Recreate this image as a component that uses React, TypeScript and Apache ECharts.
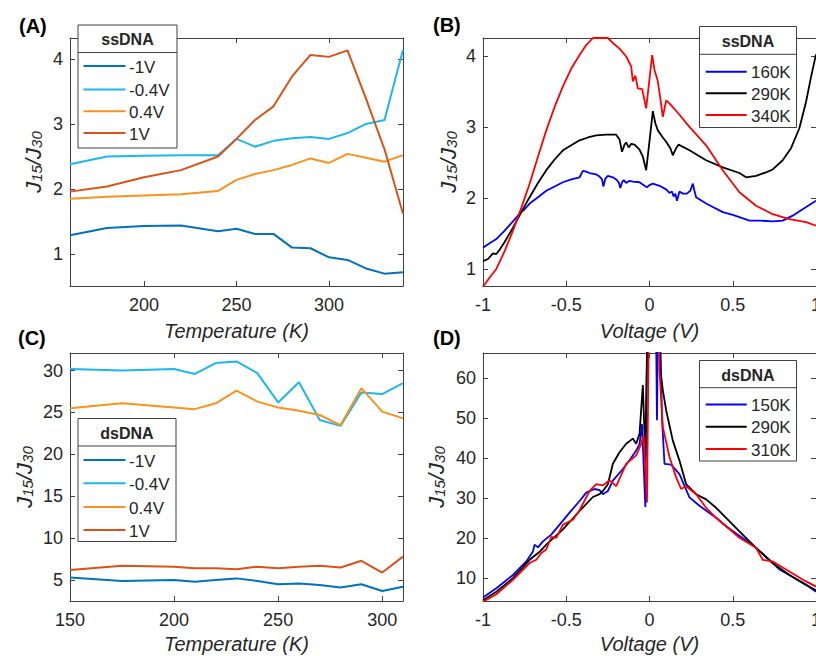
import React, { useEffect, useRef } from 'react';
import * as echarts from 'echarts';

const FONT = '"Liberation Sans", Arial, Helvetica, sans-serif';
const TEXT = '#262626';
const AXIS = '#404040';

// ---------- Panel A (ssDNA, ratio vs temperature) ----------
const tempA = [160, 180, 200, 220, 240, 250, 260, 270, 280, 290, 300, 310, 320, 330, 340];
const ssNeg1V = [1.29, 1.40, 1.43, 1.44, 1.35, 1.39, 1.31, 1.31, 1.10, 1.09, 0.95, 0.91, 0.78, 0.70, 0.72];
const ssNeg04V = [2.38, 2.50, 2.51, 2.52, 2.52, 2.77, 2.65, 2.74, 2.78, 2.80, 2.77, 2.86, 3.00, 3.06, 4.14];
const ssPos04V = [1.85, 1.88, 1.90, 1.92, 1.97, 2.14, 2.23, 2.29, 2.37, 2.47, 2.40, 2.54, 2.48, 2.42, 2.52];
const ssPos1V = [1.96, 2.04, 2.18, 2.29, 2.50, 2.77, 3.06, 3.27, 3.73, 4.06, 4.03, 4.13, 3.39, 2.61, 1.62];

// ---------- Panel C (dsDNA, ratio vs temperature) ----------
const tempC = [150, 175, 200, 210, 220, 230, 240, 250, 260, 270, 280, 290, 300, 310];
const dsNeg1V = [5.3, 4.9, 5.0, 4.8, 5.0, 5.2, 4.9, 4.5, 4.6, 4.4, 4.1, 4.5, 3.7, 4.2];
const dsNeg04V = [30.2, 30.0, 30.2, 29.6, 30.9, 31.1, 29.7, 26.2, 28.6, 24.1, 23.4, 27.4, 27.2, 28.5];
const dsPos04V = [25.5, 26.1, 25.6, 25.4, 26.1, 27.6, 26.3, 25.6, 25.2, 24.7, 23.5, 27.9, 25.1, 24.3];
const dsPos1V = [6.2, 6.7, 6.6, 6.4, 6.4, 6.3, 6.6, 6.4, 6.6, 6.7, 6.5, 7.3, 5.9, 7.8];

const biasNames = ['-1V', '-0.4V', '0.4V', '1V'];

// ---------- Panel B (ssDNA, ratio vs voltage) ----------
const ss160K: [number, number][] = [
  [-1, 1.30], [-0.96, 1.36], [-0.92, 1.42], [-0.87, 1.54], [-0.82, 1.67], [-0.78, 1.78], [-0.75, 1.84],
  [-0.72, 1.92], [-0.67, 2.01], [-0.62, 2.10], [-0.57, 2.16], [-0.52, 2.22], [-0.47, 2.26], [-0.42, 2.29],
  [-0.4, 2.38], [-0.38, 2.37], [-0.36, 2.35], [-0.32, 2.33], [-0.3, 2.30], [-0.285, 2.26], [-0.277, 2.16],
  [-0.265, 2.27], [-0.25, 2.31], [-0.22, 2.29], [-0.2, 2.26], [-0.185, 2.22], [-0.175, 2.14], [-0.165, 2.22],
  [-0.155, 2.25], [-0.14, 2.21], [-0.12, 2.24], [-0.1, 2.23], [-0.06, 2.22], [-0.03, 2.17], [-0.015, 2.15],
  [0.0, 2.18], [0.02, 2.2], [0.06, 2.17], [0.1, 2.12], [0.12, 2.07], [0.135, 2.09], [0.145, 2.02],
  [0.155, 2.06], [0.165, 1.96], [0.18, 2.09], [0.2, 2.06], [0.225, 2.06], [0.245, 2.1], [0.26, 2.2],
  [0.27, 2.1], [0.28, 2.01], [0.34, 1.92], [0.44, 1.80], [0.5, 1.76], [0.54, 1.73], [0.6, 1.68],
  [0.66, 1.68], [0.74, 1.67], [0.8, 1.68], [0.86, 1.75], [0.92, 1.84], [0.96, 1.90], [1, 1.96],
];
const ss290K: [number, number][] = [
  [-1, 1.11], [-0.97, 1.14], [-0.94, 1.22], [-0.92, 1.21], [-0.9, 1.27], [-0.87, 1.38], [-0.82, 1.58],
  [-0.77, 1.80], [-0.72, 2.01], [-0.67, 2.21], [-0.62, 2.39], [-0.57, 2.54], [-0.52, 2.67], [-0.47, 2.74],
  [-0.42, 2.81], [-0.37, 2.85], [-0.32, 2.88], [-0.26, 2.89], [-0.2, 2.89], [-0.18, 2.82], [-0.165, 2.65],
  [-0.15, 2.75], [-0.14, 2.78], [-0.125, 2.71], [-0.11, 2.76], [-0.09, 2.75], [-0.06, 2.68], [-0.04, 2.58],
  [-0.02, 2.39], [0.0, 2.8], [0.02, 3.22], [0.035, 3.05], [0.05, 2.95], [0.08, 2.85], [0.1, 2.79],
  [0.125, 2.7], [0.14, 2.6], [0.16, 2.7], [0.175, 2.75], [0.24, 2.67], [0.34, 2.53], [0.44, 2.43],
  [0.54, 2.35], [0.58, 2.29], [0.64, 2.31], [0.7, 2.36], [0.74, 2.40], [0.8, 2.53], [0.85, 2.7],
  [0.9, 2.98], [0.94, 3.35], [0.97, 3.7], [1, 4.02],
];
const ss340K: [number, number][] = [
  [-1, 0.75], [-0.96, 0.88], [-0.92, 1.0], [-0.87, 1.25], [-0.82, 1.54], [-0.77, 1.86], [-0.72, 2.2],
  [-0.67, 2.58], [-0.62, 2.95], [-0.57, 3.28], [-0.52, 3.57], [-0.47, 3.82], [-0.42, 4.01], [-0.38, 4.15],
  [-0.34, 4.25], [-0.25, 4.25], [-0.22, 4.18], [-0.18, 4.1], [-0.14, 3.99], [-0.11, 3.85], [-0.1, 3.64],
  [-0.085, 3.72], [-0.07, 3.54], [-0.044, 3.53], [-0.02, 3.26], [0.016, 4.01], [0.03, 3.8], [0.05, 3.64],
  [0.065, 3.4], [0.08, 3.14], [0.1, 3.37], [0.12, 3.33], [0.18, 3.17], [0.24, 3.0], [0.34, 2.74],
  [0.44, 2.39], [0.54, 2.08], [0.64, 1.89], [0.74, 1.77], [0.84, 1.70], [0.94, 1.66], [1, 1.61],
];
const ssTempNames = ['160K', '290K', '340K'];

// ---------- Panel D (dsDNA, ratio vs voltage) ----------
const ds150K: [number, number][] = [
  [-1, 5.2], [-0.92, 7.5], [-0.82, 10.8], [-0.74, 14.2], [-0.7, 16.7], [-0.69, 18.4], [-0.67, 17.7],
  [-0.64, 19.2], [-0.59, 20.9], [-0.54, 23.4], [-0.48, 26.4], [-0.42, 29.3], [-0.38, 31.4], [-0.33, 32.3],
  [-0.3, 32.0], [-0.28, 31.0], [-0.25, 31.8], [-0.22, 34.4], [-0.16, 37.3], [-0.12, 39.5], [-0.08, 41.9],
  [-0.06, 43.5], [-0.045, 48.5], [-0.025, 27.8], [-0.01, 90], [0.035, 90], [0.045, 49.5], [0.055, 90],
  [0.065, 70], [0.075, 50], [0.09, 38.6], [0.13, 38.4], [0.18, 36], [0.24, 30.2], [0.3, 28.1],
  [0.4, 25.1], [0.46, 23], [0.54, 20.6], [0.64, 17.6], [0.7, 15.3], [0.78, 12.2], [0.84, 10.8],
  [0.94, 8.4], [1, 6.6],
];
const ds290K: [number, number][] = [
  [-1, 4.5], [-0.92, 6.6], [-0.82, 10.0], [-0.72, 14.6], [-0.66, 16.6], [-0.62, 18.4], [-0.52, 22.2],
  [-0.42, 26.8], [-0.34, 30.3], [-0.3, 31.0], [-0.28, 31.8], [-0.25, 33.5], [-0.22, 38.6], [-0.18, 41.5],
  [-0.14, 43.6], [-0.1, 44.9], [-0.08, 43.6], [-0.06, 46.1], [-0.04, 58.3], [-0.025, 40], [-0.005, 90],
  [0.055, 90], [0.065, 62], [0.08, 57], [0.1, 52], [0.14, 44.4], [0.18, 39.4], [0.22, 33.5], [0.28, 31.0],
  [0.34, 29.7], [0.4, 27.6], [0.46, 25.1], [0.54, 21.7], [0.64, 17.6], [0.74, 13.8], [0.84, 10.8],
  [0.94, 8.3], [1, 7.0],
];
const ds310K: [number, number][] = [
  [-1, 4.1], [-0.92, 6.0], [-0.82, 9.6], [-0.72, 13.8], [-0.68, 14.6], [-0.65, 16.3], [-0.62, 17.2],
  [-0.59, 20.3], [-0.56, 20.1], [-0.52, 23.4], [-0.46, 24.6], [-0.42, 27.0], [-0.36, 31.8], [-0.32, 33.5],
  [-0.28, 33.2], [-0.24, 34.5], [-0.2, 33.0], [-0.14, 38.6], [-0.08, 40.7], [-0.05, 43.6], [-0.035, 45.7],
  [-0.015, 28.9], [0.0, 90], [0.05, 90], [0.06, 62], [0.08, 47.8], [0.12, 40.3], [0.16, 35.2], [0.19, 32.3],
  [0.22, 33], [0.28, 31], [0.34, 27.6], [0.4, 25.1], [0.46, 23], [0.54, 20.1], [0.64, 17.6], [0.68, 14.6],
  [0.74, 14.2], [0.84, 11.7], [0.94, 9.2], [1, 7.9],
];
const dsTempNames = ['150K', '290K', '310K'];

// tick values
const ticksA_x = [200, 250, 300];
const ticksA_y = [1, 2, 3, 4];
const ticksC_x = [150, 200, 250, 300];
const ticksC_y = [5, 10, 15, 20, 25, 30];
const ticksV_x = [-1, -0.5, 0, 0.5, 1];
const ticksB_y = [1, 2, 3, 4];
const ticksD_y = [10, 20, 30, 40, 50, 60];

const biasColors = ['#0072BD', '#1EB6EE', '#F7931E', '#D95319'];
const tempColors = ['#0000FF', '#000000', '#FF0000'];

const grids = [
  { left: 70, top: 38, width: 333, height: 248 },
  { left: 483, top: 38, width: 333, height: 248 },
  { left: 70, top: 353, width: 333, height: 248 },
  { left: 483, top: 353, width: 333, height: 248 },
];

const lineStyleAx = { color: AXIS, width: 1 };

function xAxes(gi: number, min: number, max: number, ticks: number[], name: string, gap: number) {
  return [
    {
      type: 'value', gridIndex: gi, position: 'bottom', min, max,
      axisLine: { show: true, onZero: false, lineStyle: lineStyleAx },
      axisTick: { show: true, inside: true, length: 5, customValues: ticks, lineStyle: lineStyleAx },
      axisLabel: { customValues: ticks, color: TEXT, fontSize: 18, fontFamily: FONT, margin: 10 },
      splitLine: { show: false },
      name, nameLocation: 'middle', nameGap: gap,
      nameTextStyle: { color: TEXT, fontSize: 20, fontStyle: 'italic', fontFamily: FONT },
    },
    {
      type: 'value', gridIndex: gi, position: 'top', min, max,
      axisLine: { show: true, onZero: false, lineStyle: lineStyleAx },
      axisTick: { show: true, inside: true, length: 5, customValues: ticks, lineStyle: lineStyleAx },
      axisLabel: { show: false },
      splitLine: { show: false },
    },
  ];
}

function yAxes(gi: number, min: number, max: number, ticks: number[], gap: number) {
  return [
    {
      type: 'value', gridIndex: gi, position: 'left', min, max,
      axisLine: { show: true, onZero: false, lineStyle: lineStyleAx },
      axisTick: { show: true, inside: true, length: 5, customValues: ticks, lineStyle: lineStyleAx },
      axisLabel: { customValues: ticks, color: TEXT, fontSize: 18, fontFamily: FONT, margin: 7 },
      splitLine: { show: false },
      name: '{j|J}{s|15}{j|/J}{s|30}', nameLocation: 'middle', nameGap: gap,
      nameTextStyle: {
        color: TEXT,
        rich: {
          j: { fontSize: 22, lineHeight: 22, fontStyle: 'italic', fontFamily: FONT, color: TEXT, verticalAlign: 'top' },
          s: { fontSize: 15, lineHeight: 15, fontStyle: 'italic', fontFamily: FONT, color: TEXT, padding: [11, 0, 0, 0], verticalAlign: 'bottom' },
        },
      },
    },
    {
      type: 'value', gridIndex: gi, position: 'right', min, max,
      axisLine: { show: true, onZero: false, lineStyle: lineStyleAx },
      axisTick: { show: true, inside: true, length: 5, customValues: ticks, lineStyle: lineStyleAx },
      axisLabel: { show: false },
      splitLine: { show: false },
    },
  ];
}

function legend(
  box: { x: number; y: number; w: number; h: number; div: number },
  title: string, names: string[], colors: string[], itemYs: number[],
  lx0: number, lx1: number, tx: number
) {
  const els: any[] = [
    { type: 'rect', z: 100, shape: { x: box.x, y: box.y, width: box.w, height: box.h },
      style: { fill: '#ffffff', stroke: AXIS, lineWidth: 1 } },
    { type: 'line', z: 101, shape: { x1: box.x, y1: box.div, x2: box.x + box.w, y2: box.div },
      style: { stroke: AXIS, lineWidth: 1 } },
    { type: 'text', z: 101, style: { text: title, x: box.x + box.w / 2, y: (box.y + box.div) / 2 + 1,
      fill: TEXT, fontSize: 16, fontWeight: 'bold', fontFamily: FONT, align: 'center', verticalAlign: 'middle' } },
  ];
  names.forEach((n, i) => {
    els.push({ type: 'line', z: 101, shape: { x1: lx0, y1: itemYs[i], x2: lx1, y2: itemYs[i] },
      style: { stroke: colors[i], lineWidth: 2 } });
    els.push({ type: 'text', z: 101, style: { text: n, x: tx, y: itemYs[i] + 1, fill: TEXT, fontSize: 17,
      fontFamily: FONT, align: 'left', verticalAlign: 'middle' } });
  });
  return els;
}

function panelLabel(text: string, x: number, y: number) {
  return { type: 'text', z: 101, style: { text, x, y, fill: '#000', fontSize: 20, fontWeight: 'bold',
    fontFamily: FONT, align: 'left', verticalAlign: 'middle' } };
}

export default function App() {
  const ref = useRef<HTMLDivElement>(null);
  useEffect(() => {
    if (!ref.current) return;
    const chart = echarts.init(ref.current, null, { renderer: 'svg' });

    const aSeries = [ssNeg1V, ssNeg04V, ssPos04V, ssPos1V].map((vals, i) => ({
      type: 'line', name: 'A' + biasNames[i], xAxisIndex: 0, yAxisIndex: 0,
      data: tempA.map((t, k) => [t, vals[k]]), showSymbol: false, symbol: 'none', clip: true,
      lineStyle: { color: biasColors[i], width: 2 }, itemStyle: { color: biasColors[i] },
    }));
    const bSeries = [ss160K, ss290K, ss340K].map((d, i) => ({
      type: 'line', name: 'B' + ssTempNames[i], xAxisIndex: 2, yAxisIndex: 2,
      data: d, showSymbol: false, symbol: 'none', clip: true,
      lineStyle: { color: tempColors[i], width: 1.8 }, itemStyle: { color: tempColors[i] },
    }));
    const cSeries = [dsNeg1V, dsNeg04V, dsPos04V, dsPos1V].map((vals, i) => ({
      type: 'line', name: 'C' + biasNames[i], xAxisIndex: 4, yAxisIndex: 4,
      data: tempC.map((t, k) => [t, vals[k]]), showSymbol: false, symbol: 'none', clip: true,
      lineStyle: { color: biasColors[i], width: 2 }, itemStyle: { color: biasColors[i] },
    }));
    const dSeries = [ds150K, ds290K, ds310K].map((d, i) => ({
      type: 'line', name: 'D' + dsTempNames[i], xAxisIndex: 6, yAxisIndex: 6,
      data: d, showSymbol: false, symbol: 'none', clip: true,
      lineStyle: { color: tempColors[i], width: 1.8 }, itemStyle: { color: tempColors[i] },
    }));

    const option: any = {
      animation: false,
      backgroundColor: '#ffffff',
      grid: grids.map((g) => ({ ...g, containLabel: false, outerBoundsMode: 'none' })),
      xAxis: [
        ...xAxes(0, 160, 340, ticksA_x, 'Temperature (K)', 35),
        ...xAxes(1, -1, 1, ticksV_x, 'Voltage (V)', 35),
        ...xAxes(2, 150, 310, ticksC_x, 'Temperature (K)', 33),
        ...xAxes(3, -1, 1, ticksV_x, 'Voltage (V)', 33),
      ],
      yAxis: [
        ...yAxes(0, 0.51, 4.32, ticksA_y, 26),
        ...yAxes(1, 0.76, 4.25, ticksB_y, 24),
        ...yAxes(2, 2.5, 32.1, ticksC_y, 35),
        ...yAxes(3, 4.3, 66.3, ticksD_y, 36),
      ],
      series: [...aSeries, ...bSeries, ...cSeries, ...dSeries],
      graphic: [
        panelLabel('(A)', 19, 26),
        panelLabel('(B)', 433, 25),
        panelLabel('(C)', 18, 338),
        panelLabel('(D)', 433, 338),
        ...legend({ x: 78, y: 25, w: 99, h: 123, div: 52.5 }, 'ssDNA', biasNames, biasColors,
          [66, 89.5, 111.3, 133], 83.5, 125.5, 129),
        ...legend({ x: 699.5, y: 26.5, w: 97, h: 101, div: 54.3 }, 'ssDNA', ssTempNames, tempColors,
          [71.7, 93.3, 115], 705.7, 746.7, 751),
        ...legend({ x: 78, y: 418.5, w: 98, h: 123, div: 446 }, 'dsDNA', biasNames, biasColors,
          [460, 483.3, 507, 530], 83.5, 125.5, 129),
        ...legend({ x: 699.5, y: 360.5, w: 97, h: 100.5, div: 387.7 }, 'dsDNA', dsTempNames, tempColors,
          [404.5, 426.7, 449], 705.7, 746.7, 751),
      ],
    };
    chart.setOption(option);
    return () => chart.dispose();
  }, []);
  return (
    <div
      ref={ref}
      style={{ position: 'fixed', left: 0, top: 0, width: 816, height: 656, background: '#fff' }}
    />
  );
}
